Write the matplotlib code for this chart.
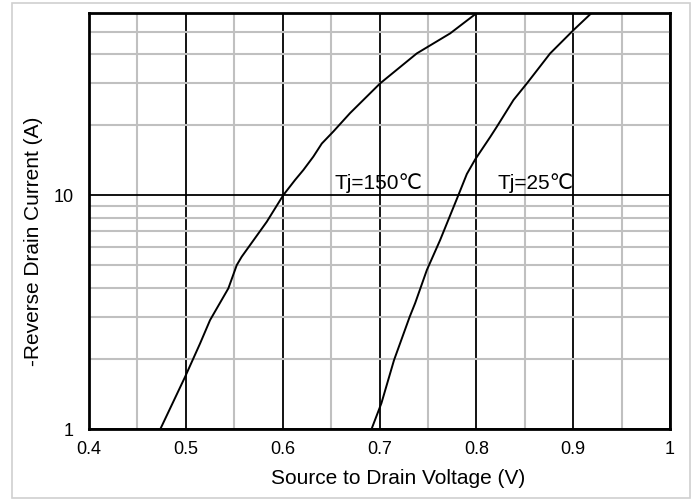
import matplotlib
matplotlib.use("Agg")
import matplotlib.pyplot as plt
from matplotlib.patches import Rectangle

plt.rcParams['font.family'] = ['Liberation Sans', 'DejaVu Sans']

# Tj = 150 C curve
v150 = [0.4737, 0.4992, 0.5147, 0.5250, 0.5439, 0.5526, 0.5577, 0.5663, 0.5836,
        0.6007, 0.6128, 0.6214, 0.6317, 0.6404, 0.6524, 0.6696, 0.7006, 0.7385,
        0.7730, 0.8005]
i150 = [1.0, 1.67, 2.32, 2.92, 3.99, 5.02, 5.45, 6.11, 7.69,
        10.0, 11.6, 12.8, 14.6, 16.6, 18.7, 22.4, 30.0, 40.3,
        49.1, 60.0]

# Tj = 25 C curve
v25 = [0.6918, 0.7020, 0.7150, 0.7312, 0.7368, 0.7489, 0.7626, 0.7815, 0.7902,
       0.7988, 0.8143, 0.8212, 0.8384, 0.8522, 0.8762, 0.9003, 0.9190]
i25 = [1.0, 1.29, 1.97, 3.02, 3.45, 4.78, 6.42, 10.0, 12.3,
       14.2, 17.7, 19.6, 25.5, 30.0, 40.3, 50.7, 60.0]

x_major = [0.4, 0.5, 0.6, 0.7, 0.8, 0.9, 1.0]
x_minor = [0.45, 0.55, 0.65, 0.75, 0.85, 0.95]
x_labels = ["0.4", "0.5", "0.6", "0.7", "0.8", "0.9", "1"]
y_major = [1, 10]
y_minor = [2, 3, 4, 5, 6, 7, 8, 9, 20, 30, 40, 50]
y_labels = ["1", "10"]

fig = plt.figure(figsize=(6.97, 5.01), dpi=100)
fig.patches.append(Rectangle((12/697, 3/501), 678/697, 495/501, transform=fig.transFigure,
                             fill=False, edgecolor='#d0d0d0', linewidth=1.2))
ax = fig.add_axes([89/697, 1 - 429/501, 581/697, 416/501])
ax.set_yscale('log')
ax.set_xlim(0.4, 1.0)
ax.set_ylim(1, 60)

ax.set_xticks(x_major)
ax.set_xticklabels(x_labels)
ax.set_xticks(x_minor, minor=True)
ax.set_yticks(y_major)
ax.set_yticklabels(y_labels)
ax.set_yticks(y_minor, minor=True)
ax.yaxis.set_minor_formatter(matplotlib.ticker.NullFormatter())

ax.grid(which='minor', color='#c0c0c0', linewidth=1.5)
ax.grid(which='major', color='black', linewidth=1.3)
ax.set_axisbelow(True)
ax.tick_params(which='both', length=0)
ax.tick_params(axis='x', pad=9, labelsize=13)
ax.tick_params(axis='y', pad=11, labelsize=13)

for s in ax.spines.values():
    s.set_linewidth(2)
    s.set_color('black')

ax.plot(v150, i150, color='black', linewidth=1.4, zorder=3)
ax.plot(v25, i25, color='black', linewidth=1.4, zorder=3)

ax.text(0.654, 10.25, "Tj=150℃", fontsize=15, ha='left', va='bottom', zorder=4)
ax.text(0.822, 10.25, "Tj=25℃", fontsize=15, ha='left', va='bottom', zorder=4)

ax.set_xlabel("Source to Drain Voltage (V)", fontsize=15)
ax.set_ylabel("-Reverse Drain Current (A)", fontsize=15)
ax.xaxis.set_label_coords(0.532, -0.095)
ax.yaxis.set_label_coords(-0.08, 0.452)

fig.savefig("out.png", dpi=100)
